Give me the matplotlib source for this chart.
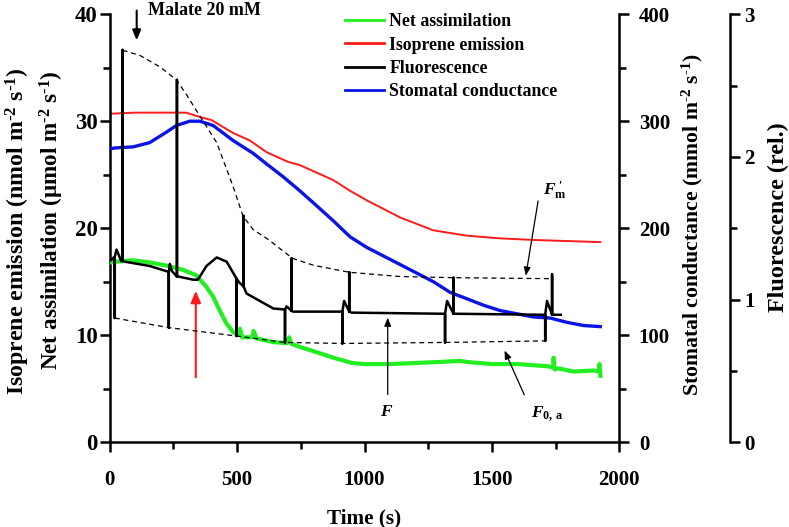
import numpy as np
import matplotlib.pyplot as plt
from matplotlib.lines import Line2D

plt.rcParams['font.family'] = ['Liberation Serif', 'DejaVu Serif']
plt.rcParams['font.weight'] = 'bold'
plt.rcParams['mathtext.fontset'] = 'custom'
plt.rcParams['mathtext.rm'] = 'Liberation Serif:bold'
plt.rcParams['mathtext.it'] = 'Liberation Serif:italic:bold'
plt.rcParams['mathtext.bf'] = 'Liberation Serif:bold'

# Net assimilation (umol m-2 s-1), left axis
t_green = [0, 40, 92, 157, 224, 288, 340, 380, 406, 432, 458, 484, 505, 511, 520, 560, 565,
           576, 642, 694, 705, 712, 746, 800, 877, 950, 1000, 1100, 1200, 1300, 1375, 1400,
           1500, 1600, 1716, 1740, 1742, 1746, 1760, 1820, 1900, 1918, 1922, 1926]
v_green = [16.8, 16.9, 17.0, 16.8, 16.5, 16.1, 15.6, 14.5, 13.6, 12.3, 11.1, 10.3, 10.0, 10.6, 9.8,
           9.8, 10.4, 9.7, 9.35, 9.25, 9.8, 9.2, 8.9, 8.5, 7.9, 7.4, 7.3, 7.3, 7.4, 7.5, 7.6, 7.5,
           7.3, 7.3, 7.1, 7.0, 7.9, 6.8, 6.9, 6.6, 6.7, 6.6, 7.3, 6.2]

# Isoprene emission (nmol m-2 s-1), left axis
t_red = [0, 100, 200, 300, 354, 400, 484, 550, 616, 700, 746, 877, 943, 1009, 1140, 1270,
         1402, 1532, 1663, 1794, 1925]
v_red = [30.7, 30.8, 30.8, 30.8, 30.4, 30.1, 28.9, 28.2, 27.1, 26.2, 25.9, 24.5, 23.5, 22.6,
         21.0, 19.8, 19.3, 19.05, 18.9, 18.8, 18.7]

# Stomatal conductance (mmol m-2 s-1), right axis
t_blue = [0, 20, 92, 157, 224, 262, 314, 354, 406, 484, 563, 616, 681, 746, 812, 877, 943,
          1009, 1140, 1205, 1270, 1336, 1402, 1467, 1532, 1598, 1663, 1729, 1794, 1860, 1925]
v_blue = [274, 275, 276, 280, 290, 296, 300, 300, 296, 282, 270, 260, 248, 235, 221, 207, 192,
          182, 166, 158, 150, 140, 134, 128, 123, 120, 117, 116, 112, 109, 108]

# Fluorescence (rel.), outer right axis
t_fl = [0, 20, 20, 20, 27, 45, 51, 51, 51, 60, 157, 224, 232, 232, 232, 236, 244, 264, 264,
        264, 270, 327, 346, 380, 420, 459, 498, 498, 498, 508, 526, 526, 526, 537, 589, 642,
        688, 688, 688, 694, 714, 714, 714, 720, 913, 913, 913, 920, 940, 940, 940, 950, 1316,
        1316, 1316, 1324, 1349, 1349, 1349, 1360, 1709, 1709, 1709, 1716, 1736, 1736, 1736,
        1745, 1770]
v_fl = [1.27, 1.30, 0.87, 1.30, 1.35, 1.27, 1.27, 2.75, 1.27, 1.265, 1.235, 1.198, 1.19, 0.803,
        1.19, 1.25, 1.20, 1.16, 2.54, 1.16, 1.161, 1.139, 1.139, 1.235, 1.295, 1.265, 1.146,
        0.744, 1.146, 1.12, 1.09, 1.586, 1.09, 1.042, 0.990, 0.937, 0.93, 0.699, 0.93, 0.952,
        0.92, 1.288, 0.92, 0.915, 0.915, 0.692, 0.915, 0.99, 0.915, 1.191, 0.915, 0.908, 0.90,
        0.699, 0.90, 0.99, 0.90, 1.153, 0.90, 0.90, 0.893, 0.710, 0.893, 0.99, 0.893, 1.176,
        0.893, 0.893, 0.893]

# Fm' and F0,a envelopes (dashed)
t_fm = [51, 120, 200, 262, 300, 354, 420, 484, 523, 563, 616, 718, 800, 940, 1140, 1349, 1736]
v_fm = [2.748, 2.71, 2.628, 2.539, 2.44, 2.286, 2.10, 1.794, 1.586, 1.49, 1.429, 1.288, 1.24,
        1.191, 1.161, 1.153, 1.146]
t_f0 = [20, 232, 498, 688, 913, 1316, 1709]
v_f0 = [0.870, 0.803, 0.744, 0.699, 0.692, 0.699, 0.710]

fig = plt.figure(figsize=(7.89, 5.27), dpi=100)
ax = fig.add_axes([0.139, 0.161, 0.646, 0.812])
ax_g = ax.twinx()
ax_f = ax.twinx()

ax.plot(t_green, v_green, color='#22ee22', lw=3.0, zorder=3)
ax.plot(t_red, v_red, color='#ff1a1a', lw=1.4, zorder=2)
ax_g.plot(t_blue, v_blue, color='#0a14e6', lw=2.4)
ax_f.plot(t_fl, v_fl, color='black', lw=1.8)
ax_f.plot(t_fm, v_fm, color='black', lw=0.9, ls=(0, (4, 3)))
ax_f.plot(t_f0, v_f0, color='black', lw=0.9, ls=(0, (4, 3)))

ax.set_xlim(0, 2000)
ax.set_ylim(0, 40)
ax_g.set_ylim(0, 400)
ax_f.set_ylim(0, 3)

ax.set_xticks([0, 500, 1000, 1500, 2000])
ax.set_xticks([250, 750, 1250, 1750], minor=True)
ax.set_yticks([0, 10, 20, 30, 40])
ax.set_yticks([5, 15, 25, 35], minor=True)
ax_g.set_yticks([0, 100, 200, 300, 400])
ax_g.set_yticks([50, 150, 250, 350], minor=True)
ax_f.set_yticks([0, 1, 2, 3])
ax_f.set_yticks([0.5, 1.5, 2.5], minor=True)

for a in (ax, ax_g, ax_f):
    for s in a.spines.values():
        s.set_visible(False)
    a.tick_params(which='major', direction='out', length=7, width=1.8, labelsize=15)
    a.tick_params(which='minor', direction='out', length=5, width=1.8)
ax.tick_params(axis='x', pad=13)
ax.tick_params(axis='y', pad=1.5, labelsize=16.5)
ax_g.tick_params(axis='y', pad=7)
ax_f.tick_params(axis='y', pad=3)
ax.spines['left'].set_visible(True)
ax.spines['bottom'].set_visible(True)
ax_g.spines['right'].set_visible(True)
ax_f.spines['right'].set_visible(True)
ax_f.spines['right'].set_position(('axes', 1.218))
for s in (ax.spines['left'], ax.spines['bottom'], ax_g.spines['right'], ax_f.spines['right']):
    s.set_linewidth(1.8)

# axis titles
unit = r' m$^{\text{-2}}$ s$^{\text{-1}}$)'
fig.text(0.462, 0.017, 'Time (s)', fontsize=15.3, ha='center', va='center')
fig.text(0.023, 0.562, 'Isoprene emission (nmol' + unit, fontsize=17.2,
         rotation=90, ha='center', va='center')
fig.text(0.066, 0.583, 'Net assimilation (\u03bcmol' + unit, fontsize=16.7,
         rotation=90, ha='center', va='center')
fig.text(0.877, 0.575, 'Stomatal conductance (mmol' + unit, fontsize=15.7,
         rotation=90, ha='center', va='center')
fig.text(0.986, 0.587, 'Fluorescence (rel.)', fontsize=17.4, rotation=90, ha='center', va='center')

# annotations
ax.annotate('', xy=(106, 37.3), xytext=(106, 40.6), annotation_clip=False,
            arrowprops=dict(arrowstyle='-|>,head_length=0.6,head_width=0.25', color='black', lw=1.5))
fig.text(0.188, 0.981, 'Malate 20 mM', fontsize=13, va='center', ha='left')
ax.annotate('', xy=(338, 14.4), xytext=(338, 5.8),
            arrowprops=dict(arrowstyle='-|>,head_length=0.7,head_width=0.3', color='#ff1a1a', lw=1.5))
ax.annotate('', xy=(1091, 11.9), xytext=(1091, 4.2),
            arrowprops=dict(arrowstyle='-|>,head_length=0.5,head_width=0.2', color='black', lw=0.9))
ax.text(1087, 2.8, '$F$', fontsize=12.5, ha='center', va='center')
ax.annotate('', xy=(1545, 8.8), xytext=(1631, 4.2),
            arrowprops=dict(arrowstyle='-|>,head_length=0.5,head_width=0.2', color='black', lw=0.9))
ax.text(1716, 2.7, r'$F_{\mathrm{0,\,a}}$', fontsize=12.5, ha='center', va='center')
ax.annotate('', xy=(1631, 15.3), xytext=(1683, 22.8),
            arrowprops=dict(arrowstyle='-|>,head_length=0.5,head_width=0.2', color='black', lw=0.9))
ax.text(1745, 23.6, r"$F_{\mathrm{m}}^{\ \prime}$", fontsize=12.5, ha='center', va='center')

handles = [Line2D([], [], color='#22ee22', lw=2),
           Line2D([], [], color='#ff1a1a', lw=2),
           Line2D([], [], color='black', lw=2),
           Line2D([], [], color='#0a14e6', lw=2)]
labels = ['Net assimilation', 'Isoprene emission', 'Fluorescence', 'Stomatal conductance']
ax_f.legend(handles, labels, loc='upper left', bbox_to_anchor=(0.437, 0.975),
            bbox_transform=fig.transFigure, frameon=False, fontsize=12.8,
            handlelength=2.2, handletextpad=0.3, labelspacing=0.36, borderpad=0, borderaxespad=0)

fig.savefig('out.png', dpi=100)
